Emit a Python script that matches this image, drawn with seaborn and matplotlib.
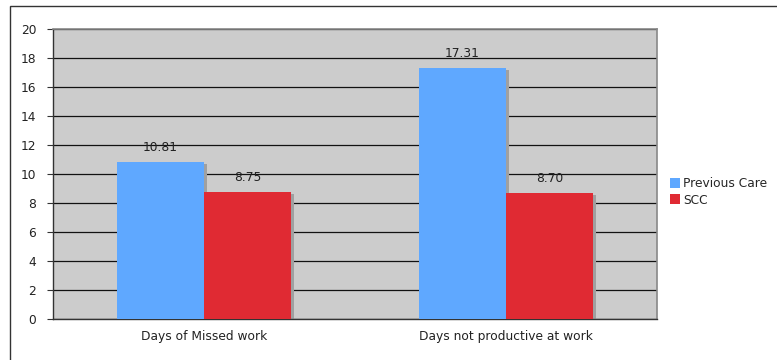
import matplotlib
matplotlib.use("Agg")
import matplotlib.pyplot as plt
import seaborn as sns
import pandas as pd
from matplotlib.patches import Rectangle

categories = ["Days of Missed work", "Days not productive at work"]
series = ["Previous Care", "SCC"]
previous_care = [10.81, 17.31]
scc = [8.75, 8.70]
yticks = [0, 2, 4, 6, 8, 10, 12, 14, 16, 18, 20]
colors = ["#5fa8ff", "#e02a33"]

df = pd.DataFrame({
    "category": categories * 2,
    "series": [series[0]] * 2 + [series[1]] * 2,
    "value": previous_care + scc,
})

sns.set_theme(style="white")
plt.rcParams["font.family"] = ["DejaVu Sans"]

fig = plt.figure(figsize=(7.77, 3.6), dpi=100)
ax = fig.add_axes([53 / 777, 1 - 319 / 360, (657 - 53) / 777, (319 - 29) / 360])

# outer chart frame (only the top and left edges fall inside the image)
fig.patches.append(Rectangle((10 / 777, -0.1), 1.2, (360 - 6) / 360 + 0.1,
                             transform=fig.transFigure, fill=False,
                             edgecolor="#333333", linewidth=1.0, zorder=0))

ax.set_facecolor("#cccccc")
sns.barplot(data=df, x="category", y="value", hue="series", palette=colors,
            width=0.576, saturation=1, ax=ax, legend=True, zorder=3,
            linewidth=0, edgecolor="none")

# soft shadow to the right of each bar
for bar in list(ax.patches):
    if bar.get_height() > 0 and bar.get_width() > 0:
        sh = Rectangle((bar.get_x() + 0.011, 0), bar.get_width(), bar.get_height() - 0.12,
                       facecolor="#a0a0a0", edgecolor="none", zorder=2)
        ax.add_patch(sh)

for cont in ax.containers:
    ax.bar_label(cont, fmt="%.2f", padding=6, fontsize=8.8, color="#222222")

ax.set_ylim(0, 20)
ax.set_yticks(yticks)
ax.set_yticklabels([str(t) for t in yticks], fontsize=8.8, color="#222222")
ax.set_xlim(-0.5, 1.5)
ax.tick_params(axis="x", labelsize=8.8, colors="#222222", length=0, pad=8)
ax.tick_params(axis="y", length=4, width=0.8, color="#333333", left=True, pad=8)
ax.yaxis.grid(True, color="#111111", linewidth=0.9)
ax.set_axisbelow(True)
ax.set_xlabel("")
ax.set_ylabel("")

for side in ["top", "right"]:
    ax.spines[side].set_color("#888888")
    ax.spines[side].set_linewidth(1.2)
for side in ["left", "bottom"]:
    ax.spines[side].set_color("#333333")
    ax.spines[side].set_linewidth(1.0)

handles, labels = ax.get_legend_handles_labels()
ax.legend(handles, labels, loc="center left", bbox_to_anchor=(670 / 777, 1 - 192 / 360),
          bbox_transform=fig.transFigure, frameon=False, fontsize=8.8,
          handlelength=0.8, handleheight=0.9, handletextpad=0.25, labelspacing=0.25,
          borderaxespad=0, borderpad=0)

fig.savefig("out.png", dpi=100)
